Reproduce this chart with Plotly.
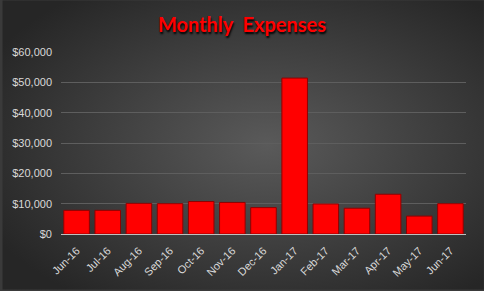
import plotly.graph_objects as go
import base64

months = ["Jun-16", "Jul-16", "Aug-16", "Sep-16", "Oct-16", "Nov-16", "Dec-16",
          "Jan-17", "Feb-17", "Mar-17", "Apr-17", "May-17", "Jun-17"]
expenses = [7800, 7800, 10100, 10000, 10700, 10400, 8700,
            51400, 9900, 8500, 13100, 5900, 10000]
y_ticks = [0, 10000, 20000, 30000, 40000, 50000, 60000]
y_tick_labels = ["$0", "$10,000", "$20,000", "$30,000", "$40,000", "$50,000", "$60,000"]

svg = """<svg xmlns='http://www.w3.org/2000/svg' width='484' height='291'>
<defs><radialGradient id='g' cx='55%' cy='50%' r='65%'>
<stop offset='0%' stop-color='#5a5a5a'/><stop offset='100%' stop-color='#262626'/>
</radialGradient></defs>
<rect width='484' height='291' fill='url(#g)'/></svg>"""
bg = "data:image/svg+xml;base64," + base64.b64encode(svg.encode()).decode()

fig = go.Figure(go.Bar(
    x=months, y=expenses,
    marker=dict(color="#ff0000", line=dict(color="#900000", width=1)),
))

fig.update_layout(
    width=484, height=291,
    margin=dict(l=59, r=18, t=52, b=56),
    paper_bgcolor="#3a3a3a",
    plot_bgcolor="rgba(0,0,0,0)",
    bargap=0.18,
    showlegend=False,
    title=dict(text="<b>Monthly  Expenses</b>", x=0.5, xanchor="center", y=0.915, yanchor="middle",
               font=dict(family="Lato", size=20, color="#ff0000", shadow="1px 2px 2px #000000")),
    images=[dict(source=bg, xref="paper", yref="paper", x=-59/407, y=1+52/183,
                 sizex=484/407, sizey=291/183,
                 xanchor="left", yanchor="top", sizing="stretch", layer="below")],
    font=dict(family="Liberation Sans, Arial", size=11, color="#d9d9d9"),
)

fig.update_xaxes(tickangle=-45, showgrid=False, showline=True, linecolor="#bfbfbf", linewidth=1,
                 ticks="", ticklabelstandoff=5, tickfont=dict(size=11, color="#d9d9d9"))
fig.update_yaxes(range=[0, 60000], tickvals=y_ticks, ticktext=y_tick_labels,
                 showgrid=True, gridcolor="#5e5e5e", gridwidth=1, zeroline=False,
                 showline=False, ticks="", ticklabelstandoff=8,
                 tickfont=dict(size=11, color="#d9d9d9"))

fig.write_html("out.html")
